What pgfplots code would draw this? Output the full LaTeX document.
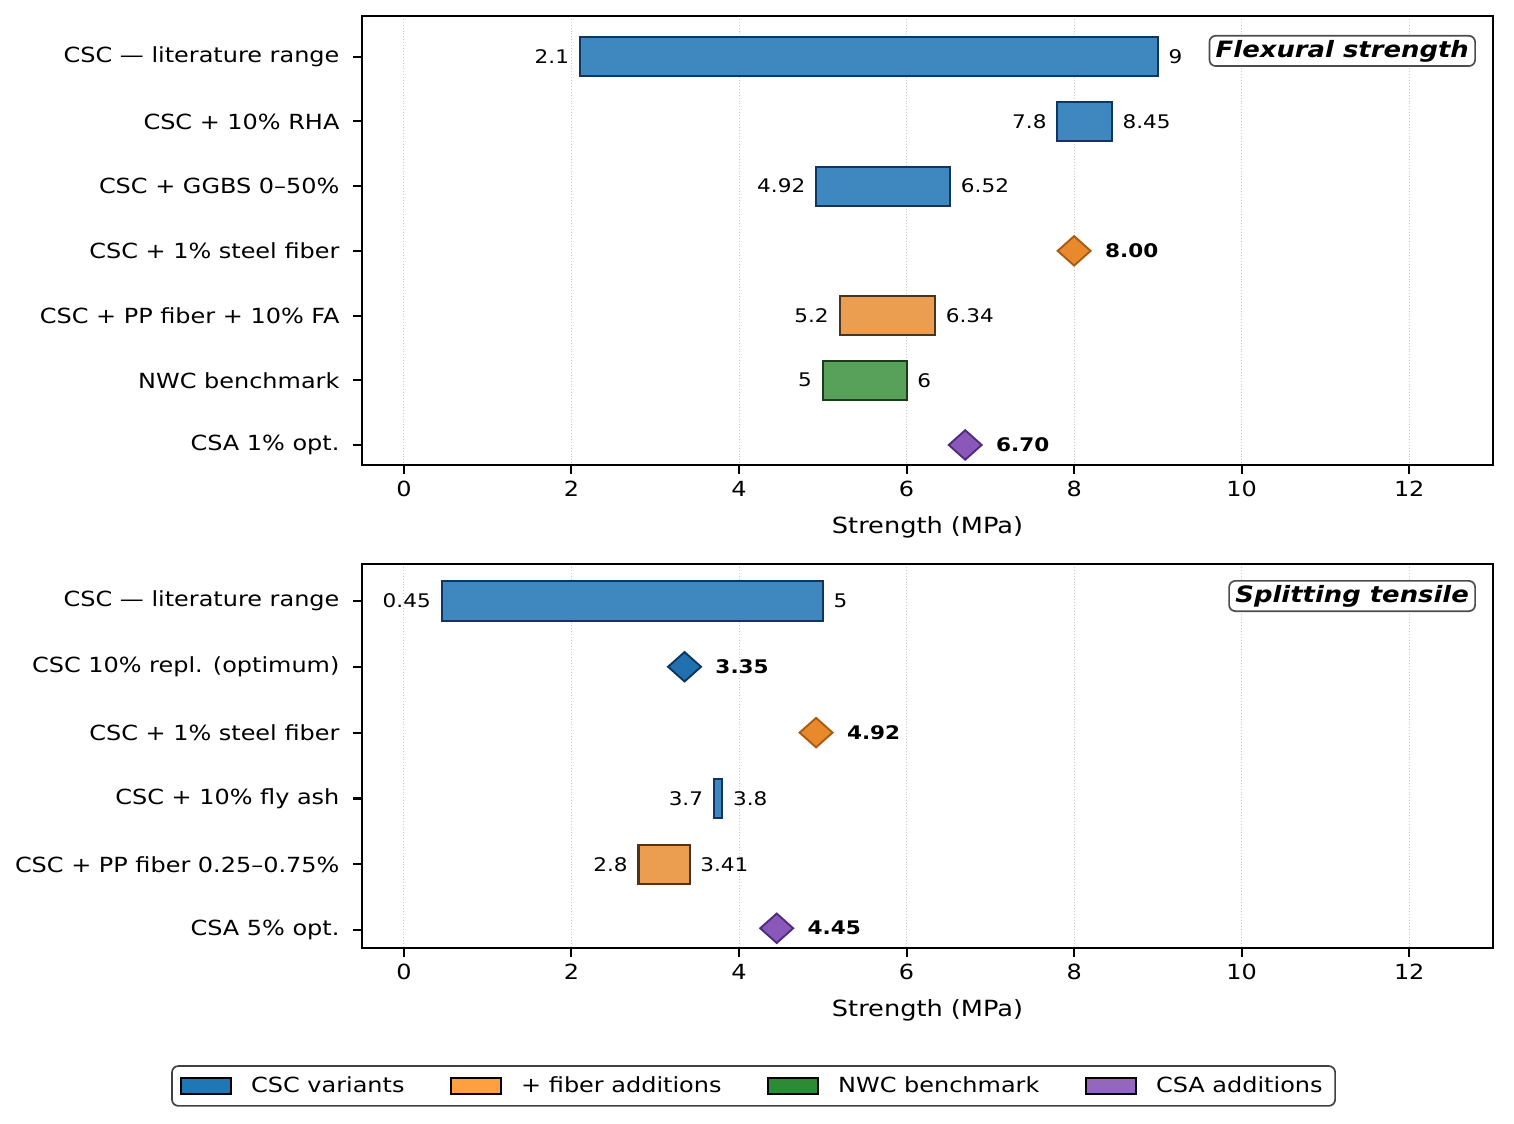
\documentclass[border=0pt]{standalone}
\usepackage{fontspec}
\setmainfont{DejaVu Sans}[FakeStretch=1.15]
\usepackage{pgfplots}
\pgfplotsset{compat=1.18}

\definecolor{cblue}{HTML}{3F88BF}
\definecolor{cblueE}{HTML}{0F3660}
\definecolor{corange}{HTML}{EB9E50}
\definecolor{corangeE}{HTML}{4A3520}
\definecolor{cgreen}{HTML}{57A15A}
\definecolor{cgreenE}{HTML}{1A3D1A}
\definecolor{dblue}{HTML}{2170B0}
\definecolor{dblueE}{HTML}{0B3560}
\definecolor{dorange}{HTML}{E8892C}
\definecolor{dorangeE}{HTML}{A85A10}
\definecolor{dpurple}{HTML}{8A58B8}
\definecolor{dpurpleE}{HTML}{4E2A80}
\definecolor{lblue}{HTML}{1F77B4}
\definecolor{lorange}{HTML}{FFA040}
\definecolor{lgreen}{HTML}{2E8B35}
\definecolor{lpurple}{HTML}{9467BD}

\newcommand\lab{\fontsize{9}{11}\selectfont}
\newcommand\blab{\fontsize{9}{11}\selectfont\bfseries}

\tikzset{
  ttl/.style={draw=black!70, line width=0.8pt, rounded corners=3pt, fill=white,
    anchor=north east, inner xsep=3pt, inner ysep=2pt,
    font=\fontsize{10.8}{13}\selectfont\bfseries\itshape},
}

\pgfplotsset{
  myax/.style={
    scale only axis,
    width=542.88pt,
    xmin=-0.5, xmax=13,
    xtick={0,2,...,12},
    xmajorgrids,
    grid style={densely dotted, draw=black!20, line width=0.4pt},
    y dir=reverse,
    ytick={0,...,6},
    tick align=outside,
    tick pos=left,
    major tick length=4.3pt,
    tick style={black, line width=1pt},
    axis line style={line width=1pt},
    ticklabel style={font=\fontsize{10}{12}\selectfont},
    yticklabel style={xshift=-3pt},
    /pgf/number format/assume math mode=true,
    xlabel={Strength (MPa)},
    xlabel style={font=\fontsize{10.7}{12}\selectfont, yshift=-2.4pt},
    clip=false,
  },
  rng/.style={line width=1pt, forget plot},
  lft/.style={only marks, mark=none, forget plot, point meta=explicit symbolic,
    nodes near coords, nodes near coords style={anchor=east, xshift=-5pt, yshift=0pt, font=\lab, inner sep=0pt}},
  rgt/.style={only marks, mark=none, forget plot, point meta=explicit symbolic,
    nodes near coords, nodes near coords style={anchor=west, xshift=5pt, yshift=0pt, font=\lab, inner sep=0pt}},
  dia/.style 2 args={only marks, forget plot, mark=square*, mark size=5pt,
    mark options={xscale=1.12, rotate=45, line width=0.9pt, fill=#1, draw=#2},
    point meta=explicit symbolic,
    nodes near coords, nodes near coords style={anchor=west, xshift=14.4pt, yshift=0pt, font=\blab, inner sep=0pt}},
}

\begin{document}
\begin{tikzpicture}
\path[use as bounding box] (0,0) rectangle (726.72pt,-539.52pt);

% ---------------- top: flexural ----------------
\begin{axis}[myax,
  at={(173.76pt,-7.68pt)}, anchor=north west,
  height=215.52pt,
  ymin=-0.63, ymax=6.31,
  yticklabels={{CSC — literature range},{CSC + 10\% RHA},{CSC + GGBS 0–50\%},{CSC + 1\% steel fiber},{CSC + PP fiber + 10\% FA},{NWC benchmark},{CSA 1\% opt.}},
]
\addplot[rng, fill=cblue, draw=cblueE] coordinates {(2.1,-0.3) (9,-0.3) (9,0.3) (2.1,0.3)} -- cycle;
\addplot[rng, fill=cblue, draw=cblueE] coordinates {(7.8,0.7) (8.45,0.7) (8.45,1.3) (7.8,1.3)} -- cycle;
\addplot[rng, fill=cblue, draw=cblueE] coordinates {(4.92,1.7) (6.52,1.7) (6.52,2.3) (4.92,2.3)} -- cycle;
\addplot[rng, fill=corange, draw=corangeE] coordinates {(5.2,3.7) (6.34,3.7) (6.34,4.3) (5.2,4.3)} -- cycle;
\addplot[rng, fill=cgreen, draw=cgreenE] coordinates {(5,4.7) (6,4.7) (6,5.3) (5,5.3)} -- cycle;
\addplot[lft] coordinates {(2.1,0)[2.1] (7.8,1)[7.8] (4.92,2)[4.92] (5.2,4)[5.2] (5,5)[5]};
\addplot[rgt] coordinates {(9,0)[9] (8.45,1)[8.45] (6.52,2)[6.52] (6.34,4)[6.34] (6,5)[6]};
\addplot[dia={dorange}{dorangeE}] coordinates {(8.00,3)[8.00]};
\addplot[dia={dpurple}{dpurpleE}] coordinates {(6.70,6)[6.70]};
\node[ttl] at (rel axis cs:1,1) [xshift=-8.2pt, yshift=-9.1pt] {Flexural strength};
\end{axis}

% ---------------- bottom: splitting tensile ----------------
\begin{axis}[myax,
  at={(173.76pt,-270.72pt)}, anchor=north west,
  height=184.32pt,
  ymin=-0.56, ymax=5.27,
  ytick={0,...,5},
  yticklabels={{CSC — literature range},{CSC 10\% repl. (optimum)},{CSC + 1\% steel fiber},{CSC + 10\% fly ash},{CSC + PP fiber 0.25–0.75\%},{CSA 5\% opt.}},
  legend columns=4,
  legend style={at={(0.3462,0)}, anchor=center, yshift=-66.2pt,
    draw=black!75, line width=0.8pt, rounded corners=3pt,
    font=\fontsize{10}{12}\selectfont,
    inner xsep=4pt, inner ysep=3pt,
    /tikz/every odd column/.append style={column sep=7pt},
    /tikz/every even column/.append style={column sep=20pt}},
  legend image code/.code={\draw[#1, sharp corners, line width=1pt] (0pt,-4pt) rectangle (24pt,4pt);},
]
\addplot[rng, fill=cblue, draw=cblueE] coordinates {(0.45,-0.3) (5,-0.3) (5,0.3) (0.45,0.3)} -- cycle;
\addplot[rng, fill=cblue, draw=cblueE] coordinates {(3.7,2.7) (3.8,2.7) (3.8,3.3) (3.7,3.3)} -- cycle;
\addplot[rng, fill=corange, draw=corangeE] coordinates {(2.8,3.7) (3.41,3.7) (3.41,4.3) (2.8,4.3)} -- cycle;
\addplot[lft] coordinates {(0.45,0)[0.45] (3.7,3)[3.7] (2.8,4)[2.8]};
\addplot[rgt] coordinates {(5,0)[5] (3.8,3)[3.8] (3.41,4)[3.41]};
\addplot[dia={dblue}{dblueE}] coordinates {(3.35,1)[3.35]};
\addplot[dia={dorange}{dorangeE}] coordinates {(4.92,2)[4.92]};
\addplot[dia={dpurple}{dpurpleE}] coordinates {(4.45,4.97)[4.45]};
\node[ttl] at (rel axis cs:1,1) [xshift=-8.2pt, yshift=-7.7pt] {Splitting tensile};
\addlegendimage{fill=lblue, draw=black}
\addlegendentry{CSC variants}
\addlegendimage{fill=lorange, draw=black}
\addlegendentry{+ fiber additions}
\addlegendimage{fill=lgreen, draw=black}
\addlegendentry{NWC benchmark}
\addlegendimage{fill=lpurple, draw=black}
\addlegendentry{CSA additions}
\end{axis}
\end{tikzpicture}
\end{document}
